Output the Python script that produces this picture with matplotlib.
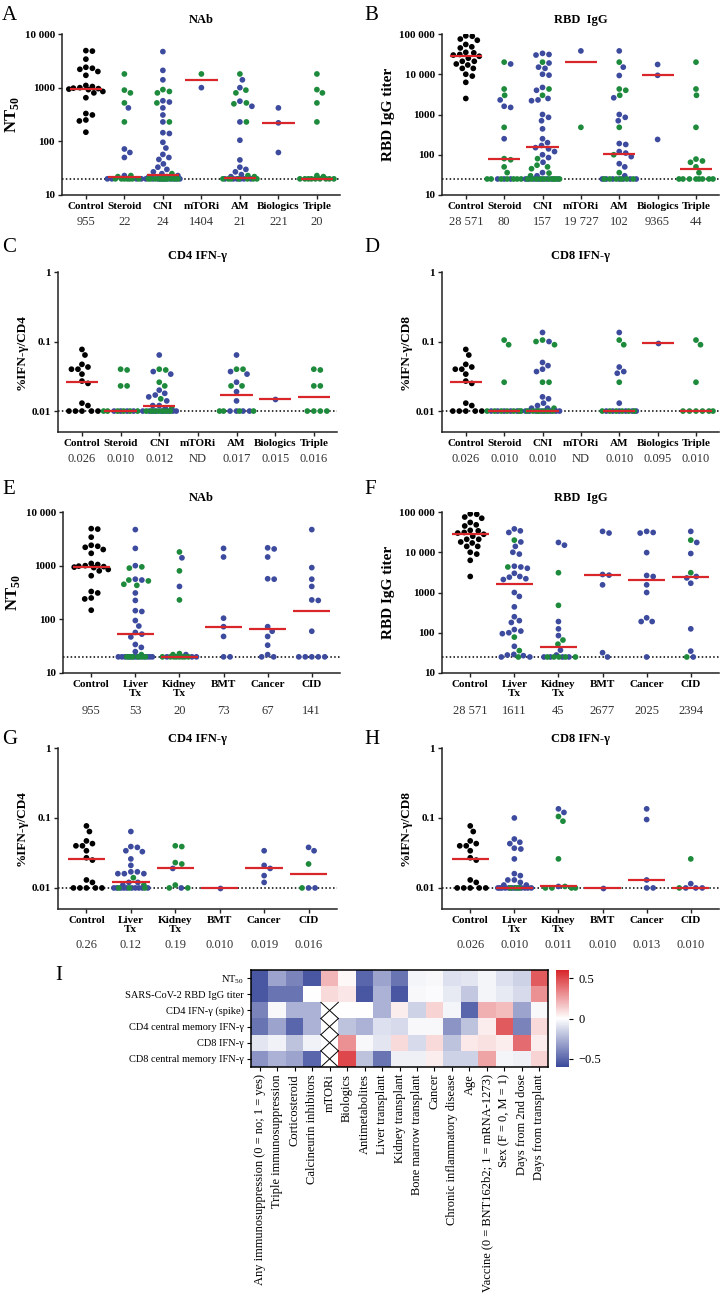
import numpy as np
import matplotlib
matplotlib.use('Agg')
import matplotlib.pyplot as plt
from matplotlib.colors import LinearSegmentedColormap
from matplotlib.ticker import NullLocator

plt.rcParams['font.family'] = ['Liberation Serif', 'DejaVu Serif']
plt.rcParams['mathtext.fontset'] = 'custom'
plt.rcParams['mathtext.rm'] = 'Liberation Serif'
plt.rcParams['mathtext.bf'] = 'Liberation Serif:bold'

BLACK, BLUE, GREEN, RED = '#000000', '#3d4b9e', '#1d8a3c', '#d9262b'

# ---------------- data ----------------
drug_cats = ['Control', 'Steroid', 'CNI', 'mTORi', 'AM', 'Biologics', 'Triple']
dis_cats = ['Control', 'Liver\nTx', 'Kidney\nTx', 'BMT', 'Cancer', 'CID']

ctrl_nab = [4900, 4800, 3400, 2400, 2300, 2200, 2000, 1700, 1100, 1050, 1000, 980, 960,
            940, 920, 850, 800, 650, 330, 310, 250, 240, 148]
ctrl_igg = [90000, 88000, 75000, 70000, 55000, 48000, 45000, 35000, 34000, 31000, 30000,
            28000, 25000, 21000, 21000, 18000, 17000, 14000, 14000, 10000, 9000, 6300, 2500]
ctrl_cd4 = [0.077, 0.064, 0.047, 0.043, 0.040, 0.040, 0.034, 0.027, 0.025, 0.013, 0.012,
            0.010, 0.010, 0.010, 0.010, 0.010]
ctrl_cd8 = [0.077, 0.064, 0.047, 0.043, 0.040, 0.040, 0.034, 0.027, 0.025, 0.013, 0.012,
            0.010, 0.010, 0.010, 0.010, 0.010]

# panel A - NAb by drug (blue / green per group, control excluded)
a_blue = [[420, 72, 62, 50, 23, 20, 20, 20, 20],
          [4700, 2100, 1400, 570, 540, 420, 310, 230, 145, 140, 96, 75, 57, 50, 46, 38, 33, 30,
           27, 25, 23, 22] + [20] * 10,
          [1000],
          [1400, 1000, 560, 450, 230, 105, 45, 33, 30, 27, 24, 22] + [20] * 6,
          [420, 221, 62],
          []]
a_green = [[1800, 900, 800, 520, 230, 23, 22] + [20] * 7,
           [920, 850, 800, 520, 230, 25, 22] + [20] * 11,
           [1800],
           [1800, 900, 800, 520, 500, 230, 23, 22] + [20] * 7,
           [],
           [1800, 920, 800, 520, 230, 23, 22] + [20] * 9]
a_med = [955, 22, 24, 1404, 21, 221, 20]
a_txt = ['955', '22', '24', '1404', '21', '221', '20']

# panel B - RBD IgG by drug
b_blue = [[18000, 2300, 1600, 1500, 250, 25, 25, 25],
          [33000, 31000, 30000, 19000, 15000, 14000, 10000, 9500, 4700, 4000, 2500, 2300, 2200,
           1000, 850, 700, 440, 250, 200, 170, 150, 140, 120, 100, 85, 65, 36, 30] + [25] * 8,
          [38000],
          [38000, 15000, 9300, 2600, 1000, 850, 700, 190, 180, 120, 110, 90, 60, 50, 30] + [25] * 7,
          [17500, 9400, 240],
          []]
b_green = [[20000, 4300, 3000, 480, 80, 75, 50, 36] + [25] * 7,
           [20000, 4300, 3000, 80, 55, 50, 45, 35, 30] + [25] * 10,
           [480],
           [20000, 4300, 4000, 3000, 480, 100, 36] + [25] * 6,
           [],
           [20000, 4300, 3000, 480, 78, 70, 65, 50, 36] + [25] * 8]
b_med = [28571, 80, 157, 19727, 102, 9365, 44]
b_txt = ['28 571', '80', '157', '19 727', '102', '9365', '44']

# panel C - CD4 IFN-g by drug
c_blue = [[0.01] * 4,
          [0.064, 0.037, 0.034, 0.020, 0.018, 0.017, 0.016, 0.014, 0.012, 0.012, 0.011] + [0.01] * 9,
          [],
          [0.064, 0.037, 0.034, 0.026, 0.019, 0.014] + [0.01] * 4,
          [0.015],
          []]
c_green = [[0.040, 0.039, 0.023, 0.023] + [0.01] * 6,
           [0.040, 0.039, 0.026, 0.023, 0.015, 0.011] + [0.01] * 7,
           [],
           [0.040, 0.040, 0.023, 0.023] + [0.01] * 4,
           [],
           [0.040, 0.039, 0.023, 0.023] + [0.01] * 4]
c_med = [0.026, 0.010, 0.012, np.nan, 0.017, 0.015, 0.016]
c_txt = ['0.026', '0.010', '0.012', 'ND', '0.017', '0.015', '0.016']

# panel D - CD8 IFN-g by drug
d_blue = [[0.01] * 5,
          [0.135, 0.10, 0.05, 0.045, 0.04, 0.037, 0.016, 0.015, 0.013, 0.012, 0.011, 0.011] + [0.01] * 8,
          [],
          [0.135, 0.043, 0.037, 0.035, 0.013] + [0.01] * 6,
          [0.095],
          []]
d_green = [[0.105, 0.09, 0.026] + [0.01] * 7,
           [0.105, 0.10, 0.09, 0.026, 0.026, 0.011] + [0.01] * 7,
           [],
           [0.105, 0.09, 0.026] + [0.01] * 6,
           [],
           [0.105, 0.09, 0.026] + [0.01] * 6]
d_med = [0.026, 0.010, 0.010, np.nan, 0.010, 0.095, 0.010]
d_txt = ['0.026', '0.010', '0.010', 'ND', '0.010', '0.095', '0.010']

# panel E - NAb by disease
e_blue = [[4700, 2100, 1000, 560, 540, 310, 225, 145, 140, 95, 75, 57, 53, 47, 34, 30, 25] + [20] * 12,
          [1400, 410, 22, 20, 20, 20],
          [2100, 1450, 105, 73, 48, 20, 20],
          [2150, 2050, 1450, 570, 560, 73, 60, 48, 33, 22, 20, 20],
          [4700, 920, 560, 410, 230, 225, 60, 20, 20, 20, 20, 20]]
e_green = [[950, 900, 540, 520, 450, 430, 22] + [20] * 6,
           [1800, 800, 230, 23, 22] + [20] * 8,
           [], [], []]
e_med = [955, 53, 20, 73, 67, 141]
e_txt = ['955', '53', '20', '73', '67', '141']

# panel F - RBD IgG by disease
f_blue = [[38000, 34000, 31000, 18000, 14000, 10000, 9000, 4500, 4300, 4000, 3000, 2500, 2400,
           2200, 2100, 1000, 800, 440, 250, 200, 180, 120, 110, 100, 95, 46, 29, 28, 27, 25, 25],
          [17500, 15000, 190, 125, 85, 37, 28, 25, 25, 25, 25],
          [33000, 30000, 2800, 2700, 1550, 32, 25],
          [33000, 31000, 30000, 9800, 2650, 2500, 1550, 1000, 235, 190, 190, 25],
          [33000, 17500, 9300, 2500, 2300, 1700, 125, 35, 25]]
f_green = [[20000, 4300, 78, 36, 25],
           [3100, 480, 66, 52, 25, 25, 25, 25, 25],
           [], [],
           [20000, 3100, 25]]
f_med = [28571, 1611, 45, 2677, 2025, 2394]
f_txt = ['28 571', '1611', '45', '2677', '2025', '2394']

# panel G - CD4 IFN-g by disease
g_blue = [[0.064, 0.039, 0.038, 0.034, 0.033, 0.026, 0.021, 0.017, 0.017, 0.016, 0.016, 0.016,
           0.012, 0.012, 0.011] + [0.01] * 10,
          [0.019, 0.01],
          [0.01],
          [0.034, 0.021, 0.019, 0.015, 0.012],
          [0.038, 0.034, 0.01, 0.01]]
g_green = [[0.014, 0.011, 0.01, 0.01, 0.01],
           [0.040, 0.039, 0.023, 0.022, 0.011, 0.01, 0.01],
           [], [],
           [0.022, 0.01]]
g_med = [0.026, 0.012, 0.019, 0.010, 0.019, 0.016]
g_txt = ['0.26', '0.12', '0.19', '0.010', '0.019', '0.016']

# panel H - CD8 IFN-g by disease
h_blue = [[0.10, 0.05, 0.045, 0.043, 0.037, 0.036, 0.026, 0.016, 0.015, 0.013, 0.013, 0.012,
           0.011, 0.011] + [0.01] * 12,
          [0.135, 0.12, 0.0105],
          [0.01],
          [0.135, 0.095, 0.013, 0.01, 0.01],
          [0.0115, 0.01, 0.01, 0.01]]
h_green = [[0.01, 0.01, 0.01],
           [0.105, 0.09, 0.026, 0.0105, 0.01, 0.01, 0.01, 0.01],
           [], [],
           [0.026, 0.01]]
h_med = [0.026, 0.010, 0.0105, 0.010, 0.013, 0.010]
h_txt = ['0.026', '0.010', '0.011', '0.010', '0.013', '0.010']

# panel I - correlation heatmap
hm_rows = ['NT$_{50}$', 'SARS-CoV-2 RBD IgG titer', 'CD4 IFN-γ (spike)',
           'CD4 central memory IFN-γ', 'CD8 IFN-γ', 'CD8 central memory IFN-γ']
hm_cols = ['Any immunosuppression (0 = no; 1 = yes)', 'Triple immunosuppression', 'Corticosteroid',
           'Calcineurin inhibitors', 'mTORi', 'Biologics', 'Antimetabolites', 'Liver transplant',
           'Kidney transplant', 'Bone marrow transplant', 'Cancer', 'Chronic inflammatory disease',
           'Age', 'Vaccine (0 = BNT162b2; 1 = mRNA-1273)', 'Sex (F = 0, M = 1)',
           'Days from 2nd dose', 'Days from transplant']
nan = np.nan
hm_vals = np.array([
    [-0.55, -0.30, -0.40, -0.55, 0.20, 0.02, -0.50, -0.30, -0.45, -0.03, -0.02, -0.10, -0.08, -0.03, -0.10, -0.15, 0.45],
    [-0.55, -0.45, -0.45, 0.00, 0.10, 0.07, -0.55, -0.25, -0.55, -0.02, -0.01, -0.07, -0.18, -0.03, -0.07, -0.12, 0.30],
    [-0.40, -0.02, -0.25, -0.25, nan, 0.00, 0.00, -0.25, 0.05, -0.15, 0.12, -0.03, -0.50, 0.22, 0.18, -0.30, -0.02],
    [-0.45, -0.30, -0.50, -0.25, nan, -0.20, -0.25, -0.10, -0.12, -0.02, -0.02, -0.35, -0.20, 0.05, 0.45, -0.40, 0.10],
    [-0.08, -0.04, -0.20, -0.04, nan, 0.30, -0.02, -0.08, 0.10, -0.12, 0.10, -0.20, 0.06, 0.08, 0.05, 0.40, 0.05],
    [-0.35, -0.25, -0.30, -0.50, nan, 0.50, -0.20, -0.45, -0.05, -0.05, 0.05, -0.15, -0.15, 0.25, -0.03, -0.05, 0.12],
])

# ---------------- layout ----------------
W, H = 721, 1303
fig = plt.figure(figsize=(W / 100, H / 100), dpi=100)
fig.patch.set_facecolor('white')


def box(l, t, r, b):
    return [l / W, 1 - b / H, (r - l) / W, (b - t) / H]


def swarm(ax, x0, vals, d=6.3, maxw=17.0):
    tr = ax.transData.transform
    ys = np.array([tr((x0, v))[1] for v in vals])
    unit = tr((1, 1))[0] - tr((0, 1))[0]
    steps = np.arange(0.5, maxw + 0.01, 0.5)
    cands = np.concatenate([[0.0], np.ravel(np.column_stack([steps, -steps]))])
    px, py = [], []
    offs = np.zeros(len(vals))
    for i in range(len(vals)):
        if px:
            dist = np.hypot(cands[:, None] - np.array(px)[None, :], ys[i] - np.array(py)[None, :]).min(axis=1)
            ok = np.where(dist >= d)[0]
            c = cands[ok[0]] if len(ok) else cands[np.argmax(dist)]
        else:
            c = 0.0
        px.append(c)
        py.append(ys[i])
        offs[i] = c / unit
    return offs


def dot_panel(rect, cats, ctrl, blue, green, med, txt, ylim, yticks, ylabels, lod,
              ylabel, title, xlim, med_off, title_pad, ylabel_size):
    ax = fig.add_axes(box(*rect))
    ax.set_yscale('log')
    ax.set_ylim(*ylim)
    ax.set_xlim(*xlim)
    for s in ['top', 'right']:
        ax.spines[s].set_visible(False)
    for s in ['left', 'bottom']:
        ax.spines[s].set_linewidth(1.1)
        ax.spines[s].set_color('#222222')
    ax.axhline(lod, color='black', ls=(0, (1, 1.5)), lw=1.1, zorder=1)

    groups = [(ctrl, [])] + list(zip(blue, green))
    for i, (bv, gv) in enumerate(groups):
        vals = list(bv) + list(gv)
        if not vals:
            continue
        if i == 0:
            cols = [BLACK] * len(vals)
        else:
            cols = [BLUE] * len(bv) + [GREEN] * len(gv)
        order = np.argsort(-np.array(vals), kind='stable')
        vals = [vals[k] for k in order]
        cols = [cols[k] for k in order]
        offs = swarm(ax, i, vals)
        ax.scatter(i + offs, vals, s=17, c=cols, linewidths=0, zorder=2)
    for i, m in enumerate(med):
        if not np.isnan(m):
            ax.plot([i - 0.42, i + 0.42], [m, m], color=RED, lw=1.6, zorder=3,
                    solid_capstyle='butt')
        ax.annotate(txt[i], xy=(i, 0), xycoords=('data', 'axes fraction'),
                    xytext=(0, -med_off * 0.72), textcoords='offset points',
                    ha='center', va='center', fontsize=9, color='#333333')

    ax.set_xticks(range(len(cats)))
    ax.set_xticklabels(cats, fontsize=8, fontweight='bold', linespacing=0.95)
    ax.set_yticks(yticks)
    ax.set_yticklabels(ylabels, fontsize=8, fontweight='bold')
    ax.yaxis.set_minor_locator(NullLocator())
    ax.tick_params(axis='both', length=3, width=1, pad=2, color='#222222')
    ax.set_ylabel(ylabel, fontsize=ylabel_size, fontweight='bold', labelpad=3)
    ax.set_title(title, fontsize=9, fontweight='bold', pad=title_pad)
    return ax


nab_ticks = [10, 100, 1000, 10000]
nab_lbl = ['10', '100', '1000', '10 000']
igg_ticks = [10, 100, 1000, 10000, 100000]
igg_lbl = ['10', '100', '1000', '10 000', '100 000']
cd_ticks = [0.01, 0.1, 1]
cd_lbl = ['0.01', '0.1', '1']
nt_label = r'$\mathbf{NT}_{\mathbf{50}}$'

drug_x = (-0.62, 6.6)
dis_x = (-0.64, 5.64)

dot_panel((62, 34, 340, 195), drug_cats, ctrl_nab, a_blue, a_green, a_med, a_txt,
          (10, 10000), nab_ticks, nab_lbl, 20, nt_label, 'NAb', drug_x, 27, 8, 12)
dot_panel((442, 34, 719, 195), drug_cats, ctrl_igg, b_blue, b_green, b_med, b_txt,
          (10, 100000), igg_ticks, igg_lbl, 25, 'RBD IgG titer', 'RBD  IgG', drug_x, 27, 8, 11)
dot_panel((58, 272, 337, 432), drug_cats, ctrl_cd4, c_blue, c_green, c_med, c_txt,
          (0.005, 1), cd_ticks, cd_lbl, 0.01, '%IFN-γ/CD4', 'CD4 IFN-γ', drug_x, 27, 9, 9.5)
dot_panel((442, 272, 719, 432), drug_cats, ctrl_cd8, d_blue, d_green, d_med, d_txt,
          (0.005, 1), cd_ticks, cd_lbl, 0.01, '%IFN-γ/CD8', 'CD8 IFN-γ', drug_x, 27, 9, 9.5)
dot_panel((63, 512, 340, 673), dis_cats, ctrl_nab, e_blue, e_green, e_med, e_txt,
          (10, 10000), nab_ticks, nab_lbl, 20, nt_label, 'NAb', dis_x, 38, 8, 12)
dot_panel((442, 512, 719, 673), dis_cats, ctrl_igg, f_blue, f_green, f_med, f_txt,
          (10, 100000), igg_ticks, igg_lbl, 25, 'RBD IgG titer', 'RBD  IgG', dis_x, 38, 8, 11)
dot_panel((58, 748, 337, 909), dis_cats, ctrl_cd4, g_blue, g_green, g_med, g_txt,
          (0.005, 1), cd_ticks, cd_lbl, 0.01, '%IFN-γ/CD4', 'CD4 IFN-γ', dis_x, 36, 4, 9.5)
dot_panel((442, 748, 719, 909), dis_cats, ctrl_cd8, h_blue, h_green, h_med, h_txt,
          (0.005, 1), cd_ticks, cd_lbl, 0.01, '%IFN-γ/CD8', 'CD8 IFN-γ', dis_x, 36, 4, 9.5)

# panel letters
for letter, (x, y) in zip('ABCDEFGHI', [(2, 16), (364, 16), (2, 248), (364, 248), (2, 489),
                                         (364, 489), (2, 740), (364, 740), (55, 975)]):
    fig.text(x / W, 1 - y / H, letter, fontsize=15, va='center', ha='left')

# heatmap
cmap = LinearSegmentedColormap.from_list('bwr_c', ['#3a499b', '#ffffff', '#d8252a'])
cmap.set_bad('white')
axh = fig.add_axes(box(251, 970, 548, 1067))
im = axh.imshow(np.ma.masked_invalid(hm_vals), cmap=cmap, vmin=-0.6, vmax=0.6,
                aspect='auto', interpolation='nearest')
for r in range(hm_vals.shape[0]):
    for c in range(hm_vals.shape[1]):
        if np.isnan(hm_vals[r, c]):
            axh.plot([c - 0.5, c + 0.5], [r - 0.5, r + 0.5], color='black', lw=0.7)
            axh.plot([c - 0.5, c + 0.5], [r + 0.5, r - 0.5], color='black', lw=0.7)
axh.set_xlim(-0.5, hm_vals.shape[1] - 0.5)
axh.set_ylim(hm_vals.shape[0] - 0.5, -0.5)
axh.set_xticks(range(len(hm_cols)))
axh.set_xticklabels(hm_cols, rotation=90, fontsize=9)
axh.set_yticks(range(len(hm_rows)))
axh.set_yticklabels(hm_rows, fontsize=7.5)
axh.tick_params(length=3, width=0.8, pad=2)
for s in axh.spines.values():
    s.set_linewidth(1.1)

cax = fig.add_axes(box(556, 970, 569, 1067))
cb = fig.colorbar(im, cax=cax, ticks=[-0.5, 0, 0.5])
cb.ax.set_yticklabels(['\u22120.5', '0', '0.5'], fontsize=9)
cb.outline.set_visible(False)
cb.ax.tick_params(length=3, width=0.8)

fig.savefig('out.png', dpi=100, facecolor='white')
